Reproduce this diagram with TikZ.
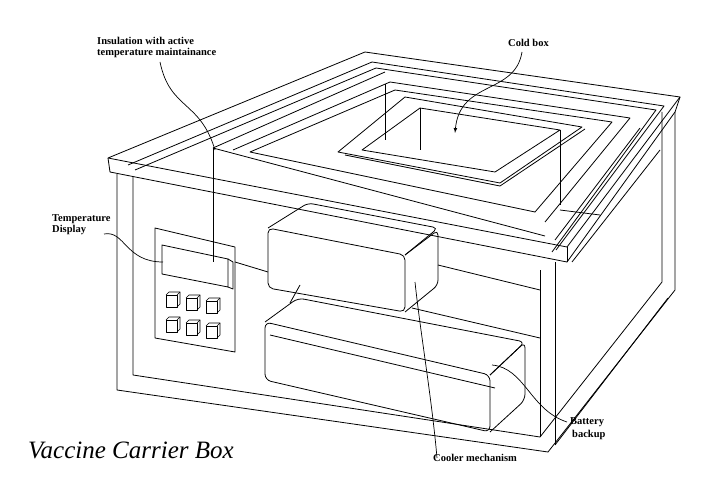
\documentclass[tikz,border=0pt]{standalone}
\usepackage{fontspec}
\setmainfont{Liberation Serif}
\begin{document}
\begin{tikzpicture}[x=1pt,y=-1pt,line join=round,
  ln/.style={draw=black,line width=0.8pt},
  lbl/.style={font=\fontsize{10.5}{11.5}\selectfont\bfseries,align=left,inner sep=0pt},
  lead/.style={draw=black,line width=0.7pt}]
\useasboundingbox[fill=white] (0,0) rectangle (720,492);
% ---- lid / rim
\draw[ln] (108,158)--(365,52)--(680,97)--(567,247)--cycle;
\draw[ln] (108,158)--(110,172)--(567,262)--(675,112)--(680,97);
\draw[ln] (567,247)--(567,262);
\draw[ln] (128,165)--(372,62)--(664,106)--(556,250);
\draw[ln] (135,170)--(376,68)--(656,110)--(552,252);
% ---- box front and inner frame
\draw[ln] (117,174)--(117,390)--(548,452)--(675,290)--(675,112);
\draw[ln] (133,177)--(133,375)--(540,437);
\draw[ln] (555,262)--(555,445);
\draw[ln] (540,270)--(540,437);
\draw[ln] (540,437)--(662,282)--(662,112);
\draw[ln] (555,445)--(668,298);
\draw[ln] (572,262)--(660,150);
% ---- insulation wall
\draw[ln] (213,148)--(213,262);
\draw[ln] (213,148)--(545,236);
\draw[ln] (213,148)--(385,72);
\draw[ln] (555,240)--(640,128);
\draw[ln] (233,150)--(390,82)--(630,118)--(545,222);
\draw[ln] (250,152)--(395,90)--(612,122)--(535,212)--cycle;
\draw[ln] (385,84)--(385,140);
\draw[ln] (560,130)--(560,205);
\draw[ln] (560,210)--(600,215);
% ---- cold box
\draw[ln] (338,152)--(405,97)--(582,127)--(500,183)--cycle;
\draw[ln] (345,155)--(500,186)--(585,129);
\draw[ln] (362,150)--(420,108)--(560,130)--(495,172)--cycle;
\draw[ln] (420,108)--(420,150);
\draw[ln] (560,130)--(560,170);
% ---- display panel
\draw[ln] (155,228)--(235,247)--(235,352)--(155,338)--cycle;
\draw[ln] (162,245)--(228,259)--(228,287)--(162,274)--cycle;
\draw[ln] (228,259)--(233,262)--(233,289)--(228,287);
\foreach \i in {0,1,2}{\foreach \j in {0,1}{
  \pgfmathsetmacro{\xx}{166+20*\i}\pgfmathsetmacro{\yy}{292+25*\j+3*\i}
  \draw[ln,line width=0.6pt] (\xx,\yy+3) rectangle ++(11,12);
  \draw[ln,line width=0.6pt] (\xx,\yy+3)--++(3,-3)--++(11,0)--++(0,12)--++(-3,3);
  \draw[ln,line width=0.6pt] (\xx+11,\yy+3)--++(3,-3);}}
% ---- cooler
\draw[ln,rounded corners=5pt] (268,228)--(405,255)--(405,312)--(268,288)--cycle;
\draw[ln,rounded corners=5pt] (268,228)--(308,203)--(438,228)--(405,255);
\draw[ln,rounded corners=5pt] (405,255)--(438,230)--(438,285)--(405,312);
\draw[ln] (235,262)--(268,272);
\draw[ln] (438,265)--(540,290);
\draw[ln] (412,308)--(540,338);
% ---- battery
\draw[ln,rounded corners=6pt] (265,322)--(490,375)--(490,432)--(265,380)--cycle;
\draw[ln,rounded corners=6pt] (265,322)--(298,298)--(525,342)--(490,375);
\draw[ln,rounded corners=6pt] (490,375)--(525,342)--(525,400)--(490,432);
\draw[ln] (270,335)--(495,388);
\draw[ln] (290,303)--(300,285);
% ---- labels and leaders
\node[lbl,anchor=north west] (ins) at (97,37) {Insulation with active\\temperature maintainance};
\coordinate (insend) at (215,150);
\draw[lead] (160,62) .. controls (170,110) and (200,100) .. (insend);
\node[lbl,anchor=north west] (cold) at (508,39) {Cold box};
\coordinate (coldend) at (455,133);
\draw[lead,-{latex}] (522,52) .. controls (515,95) and (460,80) .. (coldend);
\node[lbl,anchor=north west] (temp) at (52,214) {Temperature\\Display};
\coordinate (tempend) at (163,262);
\draw[lead] (104,234) .. controls (125,230) and (125,262) .. (tempend);
\node[lbl,anchor=north west,font=\fontsize{10.5}{13}\selectfont\bfseries] (bat) at (570,417) {Battery\\\hspace*{2pt}backup};
\coordinate (batend) at (492,365);
\draw[lead] (567,422) .. controls (530,410) and (525,368) .. (batend);
\node[lbl,anchor=north west] (cool) at (433,454) {Cooler mechanism};
\coordinate (coolend) at (415,282);
\draw[lead] (437,458) .. controls (432,400) and (420,330) .. (coolend);
\node[anchor=north west,inner sep=0pt,font=\fontsize{25}{27}\selectfont\itshape] (title) at (28,442) {Vaccine Carrier Box};
\end{tikzpicture}
\end{document}
